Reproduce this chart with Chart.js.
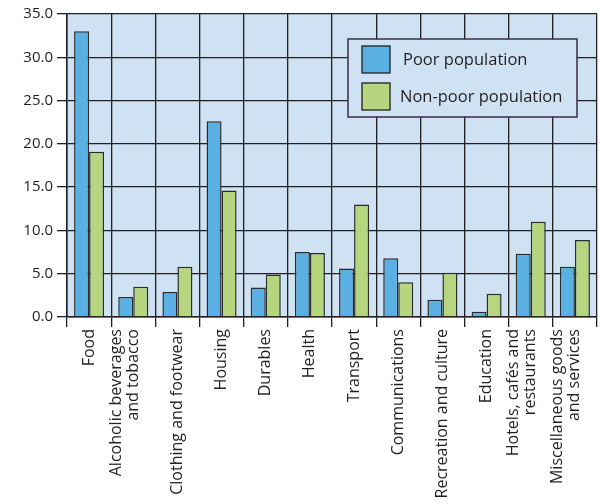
<!DOCTYPE html>
<html>
<head>
<meta charset="utf-8">
<script src="https://cdn.jsdelivr.net/npm/chart.js@4"></script>
<style>
  html, body { margin: 0; padding: 0; background: #fff; }
  #wrap { width: 603px; height: 504px; }
</style>
</head>
<body>
<div id="wrap"><canvas id="chart" width="603" height="504"></canvas></div>
<script>
// spending shares, % of total
var categories = [
  "Food",
  ["Alcoholic beverages", "and tobacco"],
  "Clothing and footwear",
  "Housing",
  "Durables",
  "Health",
  "Transport",
  "Communications",
  "Recreation and culture",
  "Education",
  ["Hotels, cafés and", "restaurants"],
  ["Miscellaneous goods", "and services"]
];
var poor = [33.0, 2.3, 2.9, 22.6, 3.4, 7.5, 5.6, 6.8, 2.0, 0.6, 7.3, 5.8];
var nonPoor = [19.1, 3.5, 5.8, 14.6, 4.9, 7.4, 13.0, 4.0, 5.1, 2.7, 11.0, 8.9];
var seriesNames = ["Poor population", "Non-poor population"];

var FONT = "'Open Sans', sans-serif";
var INK = "#231f20";
var LABEL_LH = 17;

// light blue plot background
var plotBg = {
  id: 'plotBg',
  beforeDraw: function(chart) {
    var a = chart.chartArea, ctx = chart.ctx;
    ctx.save();
    ctx.fillStyle = "#cfe2f3";
    ctx.fillRect(a.left, a.top, a.right - a.left, a.bottom - a.top);
    ctx.restore();
  }
};

// boxed legend sitting inside the plot
var boxLegend = {
  id: 'boxLegend',
  afterDraw: function(chart) {
    var ctx = chart.ctx;
    var x = 348, y = 39, w = 229, h = 78;
    ctx.save();
    ctx.fillStyle = "#cfe2f3";
    ctx.fillRect(x, y, w, h);
    ctx.lineWidth = 1.5;
    ctx.strokeStyle = "#3b2b45";
    ctx.strokeRect(x, y, w, h);
    ctx.font = "16.5px " + FONT;
    ctx.textBaseline = "middle";
    chart.data.datasets.forEach(function(ds, i) {
      var sy = y + 7 + i * 37;
      ctx.fillStyle = ds.backgroundColor;
      ctx.fillRect(x + 14, sy, 28, 27);
      ctx.strokeStyle = INK;
      ctx.lineWidth = 1.3;
      ctx.strokeRect(x + 14, sy, 28, 27);
      ctx.fillStyle = INK;
      ctx.fillText(ds.label, x + (i === 0 ? 55 : 52), sy + 14);
    });
    ctx.restore();
  }
};

new Chart(document.getElementById("chart"), {
  type: 'bar',
  data: {
    labels: categories,
    datasets: [{
        label: seriesNames[0],
        data: poor,
        backgroundColor: "#5aafe3",
        borderColor: "#2b2b2b",
        borderWidth: 1.5
      }, {
        label: seriesNames[1],
        data: nonPoor,
        backgroundColor: "#b5d67e",
        borderColor: "#2b2b2b",
        borderWidth: 1.5
      }
    ]
  },
  options: {
    responsive: false,
    animation: false,
    layout: { padding: { top: 14, right: 6, left: 0, bottom: 0 } },
    datasets: { bar: { categoryPercentage: 0.68, barPercentage: 1.0 } },
    plugins: {
      legend: { display: false },
      tooltip: { enabled: false }
    },
    scales: {
      x: {
        grid: { offset: true, color: INK, lineWidth: 1.3, tickLength: 10 },
        border: { color: INK, width: 1.5 },
        ticks: {
          minRotation: 90, maxRotation: 90, autoSkip: false,
          color: INK, padding: 2,
          font: { family: FONT, size: 16, lineHeight: LABEL_LH / 16 }
        },
        afterFit: function(s) {
          s.height = 187;
          s.paddingLeft = 0;
          s.paddingRight = 0;
          // centre two-line labels on their category
          if (!s._wrapped) {
            var orig = s._computeLabelItems;
            s._computeLabelItems = function(area) {
              var items = orig.call(this, area);
              items.forEach(function(it) {
                if (Array.isArray(it.label) && it.label.length > 1) {
                  it.textOffset = -(it.label.length - 1) * LABEL_LH / 2;
                }
              });
              return items;
            };
            s._wrapped = true;
          }
        }
      },
      y: {
        min: 0, max: 35,
        grid: { color: INK, lineWidth: 1.3, tickLength: 10 },
        border: { color: INK, width: 1.5 },
        ticks: {
          stepSize: 5, color: INK, padding: 4,
          font: { family: FONT, size: 15 },
          callback: function(v) { return v.toFixed(1); }
        },
        afterFit: function(s) { s.width = 67; }
      }
    }
  },
  plugins: [plotBg, boxLegend]
});
</script>
</body>
</html>
